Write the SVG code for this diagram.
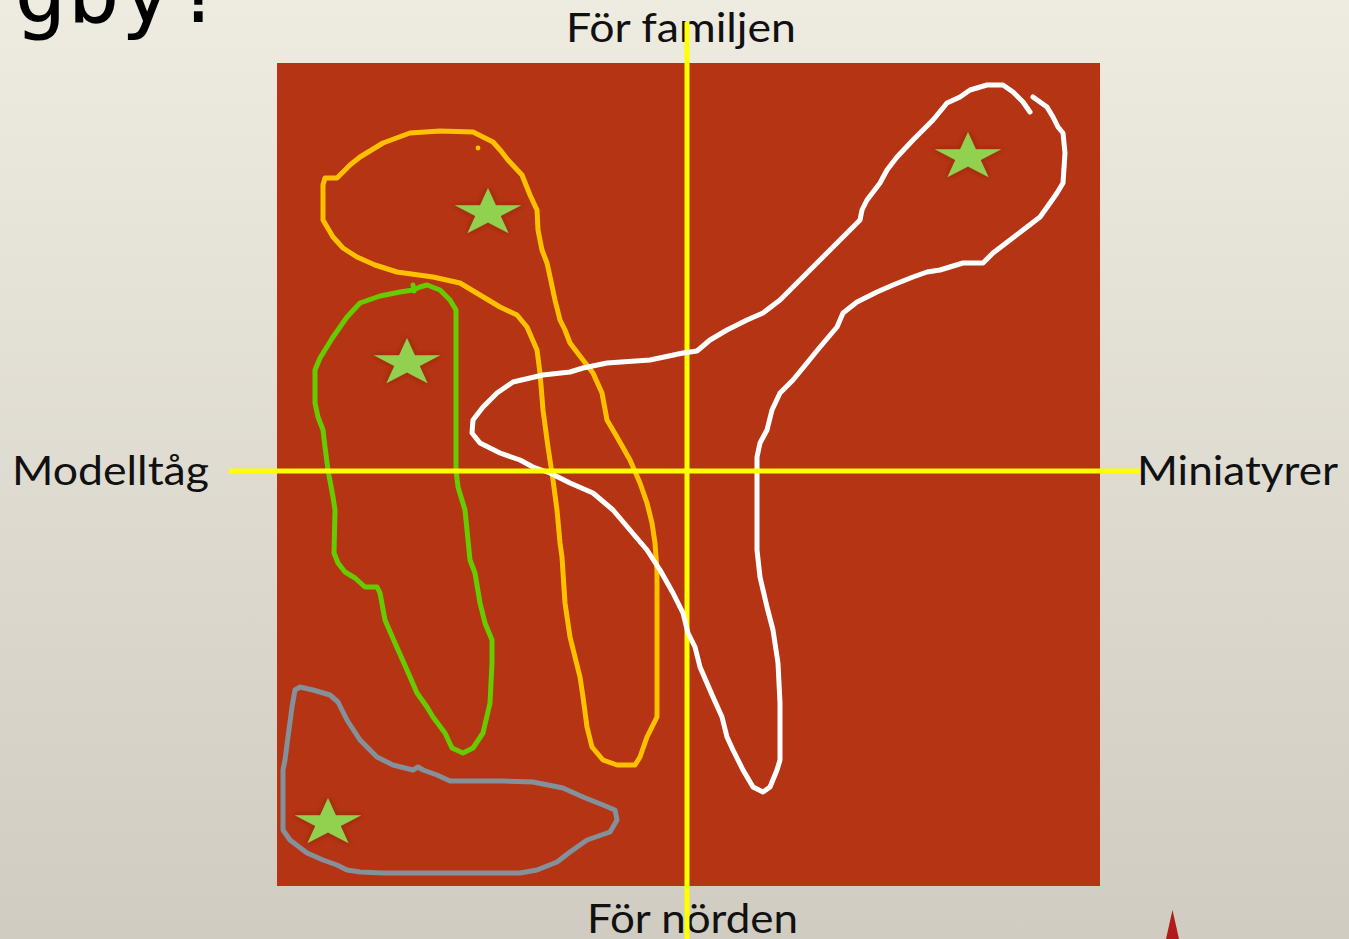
<svg xmlns="http://www.w3.org/2000/svg" width="1349" height="939" viewBox="0 0 1349 939">
<defs>
<linearGradient id="bg" x1="0" y1="0" x2="0" y2="1">
<stop offset="0" stop-color="#EEEBE1"/>
<stop offset="1" stop-color="#D0CCC1"/>
</linearGradient>
<filter id="glow" x="-30%" y="-30%" width="160%" height="160%">
<feDropShadow dx="0" dy="0" stdDeviation="2.5" flood-color="#6e1f08" flood-opacity="0.6"/>
</filter>
<polygon id="star" points="0,-25 7.86,-7.73 33.3,-7.73 12.7,2.95 20.6,20.2 0,9.55 -20.6,20.2 -12.7,2.95 -33.3,-7.73 -7.86,-7.73" fill="#92D050"/>
</defs>
<style>
.lbl{font-family:Lato,"Liberation Sans",sans-serif;font-size:40px;fill:#111}
.ink{fill:none;stroke-width:5;stroke-linejoin:round;stroke-linecap:round}
.axis{stroke:#FFFF00;stroke-width:5}
</style>
<rect x="0" y="0" width="1349" height="939" fill="url(#bg)"/>
<text x="14" y="22" font-family="DejaVu Sans Mono,monospace" font-size="88" fill="#000">gby?</text>
<rect id="field" x="277" y="63" width="823" height="823" fill="#B43413"/>
<g id="labels">
<text class="lbl" x="566" y="42" textLength="230" lengthAdjust="spacingAndGlyphs">För familjen</text>
<text class="lbl" x="12" y="485" textLength="197" lengthAdjust="spacingAndGlyphs">Modelltåg</text>
<text class="lbl" x="1137" y="485" textLength="201" lengthAdjust="spacingAndGlyphs">Miniatyrer</text>
<text class="lbl" x="587" y="933" textLength="211" lengthAdjust="spacingAndGlyphs">För nörden</text>
</g>
<g id="axis-v"><line class="axis" x1="687" y1="22" x2="687" y2="939"/></g>
<g id="curves">
<path id="orange" class="ink" stroke="#FFC000" d="M323,185 L325,178 L337,178 L342,173 L350,165 L360,157 L383,143 L410,133 L440,131 L473,132 L493,142 L501,151 L508,160 L522,175 L530,195 L537,210 L538,230 L542,250 L547,263 L549,272 L555,300 L560,320 L565,330 L570,343 L583,360 L593,373 L602,393 L607,420 L617,437 L630,460 L640,483 L647,503 L652,523 L655,543 L657,570 L657,717 L647,737 L640,757 L635,765 L617,765 L603,760 L592,747 L587,727 L583,697 L580,677 L570,637 L565,603 L562,557 L560,543 L557,510 L553,480 L548,447 L543,410 L540,373 L537,350 L527,327 L517,315 L500,307 L480,295 L460,283 L433,277 L397,272 L375,265 L357,257 L343,248 L333,237 L323,220 Z"/>
<circle cx="478" cy="148" r="2.4" fill="#FFC000"/>
<path id="green" class="ink" stroke="#66CC00" d="M456,470 L456,310 L450,300 L440,290 L427,285 L420,287 L413,290 L400,292 L380,296 L360,303 L347,317 L333,337 L320,358 L315,370 L315,403 L318,417 L323,430 L325,447 L328,470 L333,497 L335,510 L334,553 L338,563 L345,572 L355,578 L365,587 L377,587 L380,593 L385,620 L395,643 L407,670 L417,693 L427,707 L433,717 L445,733 L452,748 L463,753 L473,748 L483,733 L490,703 L492,663 L492,640 L485,623 L480,603 L475,573 L470,560 L467,530 L465,510 L458,487 Z M413,285 L414,291"/>
<path id="white" class="ink" stroke="#FFFFFF" d="M1030,112 L1023,102 L1013,92 L1003,85 L987,85 L970,90 L960,97 L947,103 L933,120 L913,140 L897,157 L887,170 L880,183 L867,200 L862,210 L860,220 L853,227 L837,243 L820,260 L797,283 L780,300 L763,313 L747,320 L727,330 L710,340 L697,351 L683,353 L650,360 L607,363 L583,368 L570,372 L543,375 L513,382 L497,393 L483,407 L473,420 L472,433 L480,443 L500,453 L520,460 L533,467 L550,473 L570,483 L593,493 L613,510 L630,530 L647,550 L660,570 L673,593 L683,613 L688,633 L695,647 L700,667 L713,697 L722,717 L727,737 L733,750 L743,770 L753,787 L763,792 L770,787 L777,770 L780,760 L780,703 L778,663 L773,630 L767,607 L760,577 L757,550 L757,457 L760,443 L767,430 L772,410 L780,393 L793,380 L807,363 L820,347 L837,327 L843,313 L857,302 L877,292 L893,285 L913,277 L927,272 L940,270 L963,263 L983,263 L993,253 L1010,240 L1027,227 L1040,217 L1050,203 L1057,193 L1063,183 L1065,153 L1063,133 L1058,127 L1053,117 L1047,107 L1033,97"/>
<path id="gray" class="ink" stroke="#84909A" d="M300,687 L313,690 L330,695 L338,702 L347,720 L360,740 L377,757 L393,765 L413,770 L418,767 L423,770 L437,775 L450,781 L503,781 L533,782 L563,788 L583,797 L603,805 L615,810 L617,820 L610,832 L587,840 L570,852 L557,862 L537,870 L520,873 L383,873 L360,872 L347,870 L337,865 L323,860 L307,853 L290,840 L283,830 L283,770 L285,760 L288,737 L292,707 L295,690 Z"/>
</g>
<g id="axis-h"><line class="axis" x1="229" y1="471" x2="1140" y2="471"/></g>
<g id="stars" filter="url(#glow)">
<use href="#star" x="488" y="213"/>
<use href="#star" x="407" y="363"/>
<use href="#star" x="968" y="157"/>
<use href="#star" x="328" y="823"/>
</g>
<polygon id="marker-tri" points="1172.5,910 1166,939 1179,939" fill="#B01B1B"/>
</svg>
